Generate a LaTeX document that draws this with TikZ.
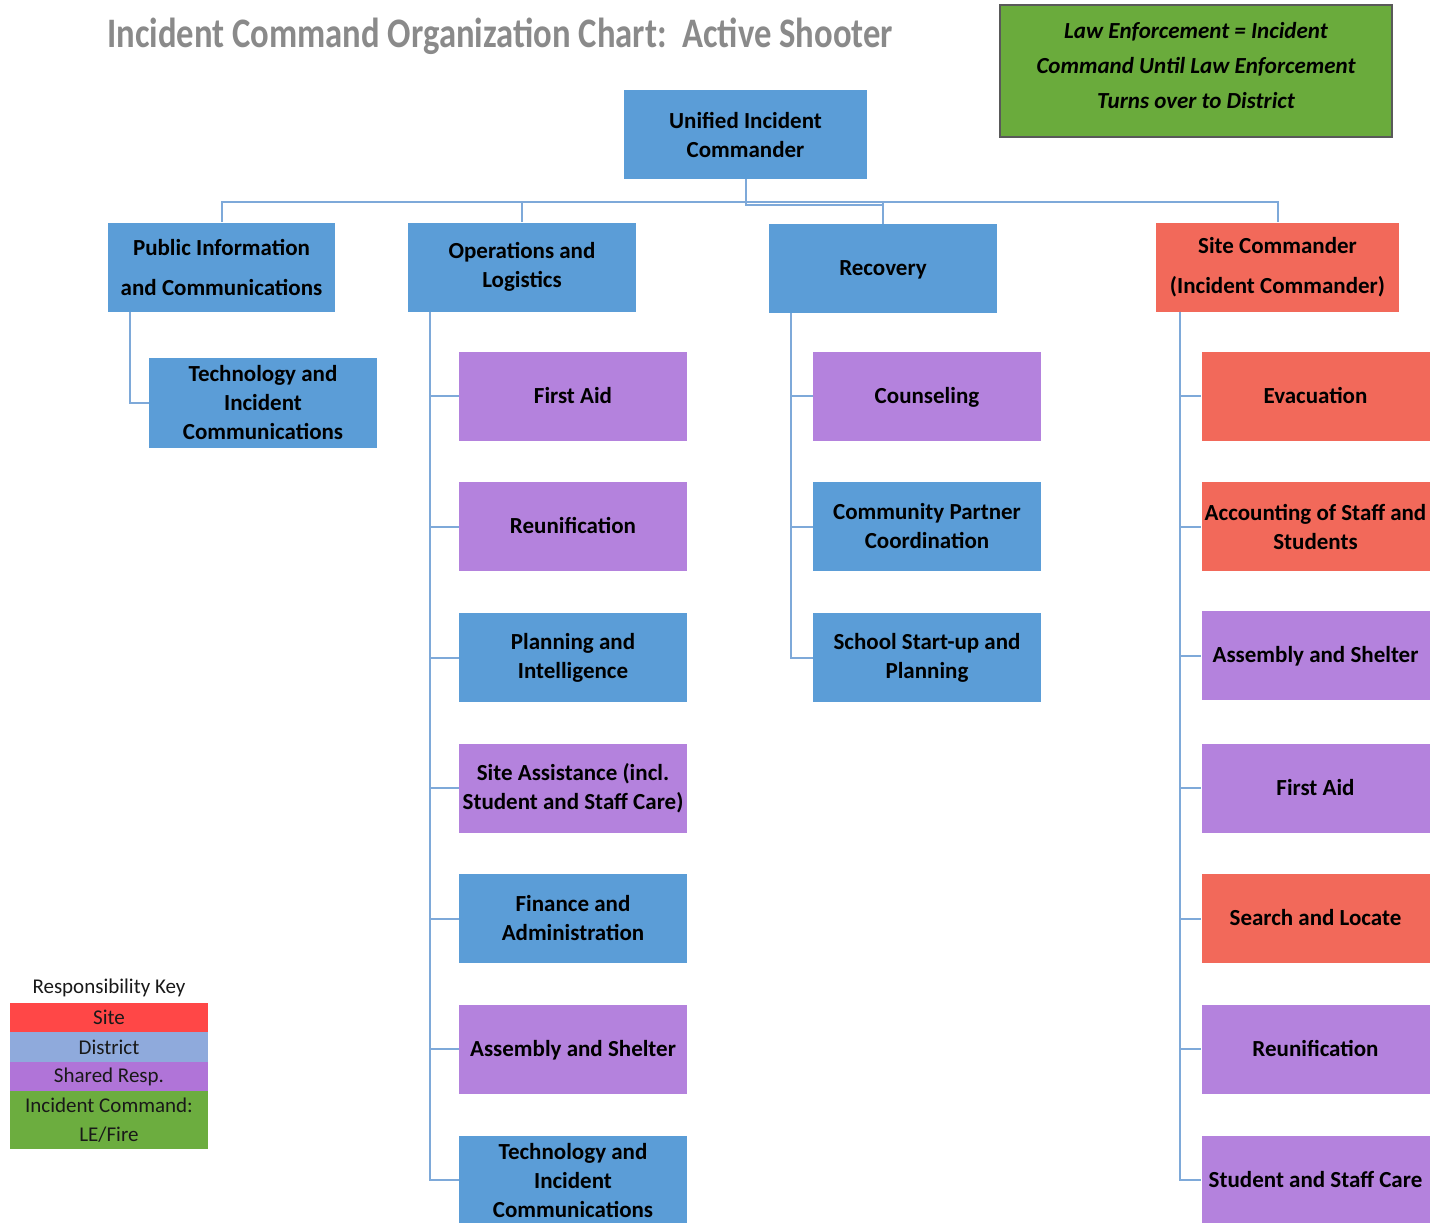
\documentclass[tikz,border=0pt]{standalone}
\usepackage{fontspec}
\setmainfont{Carlito}
\definecolor{bbox}{HTML}{5B9DD7}
\definecolor{pbox}{HTML}{B482DD}
\definecolor{rbox}{HTML}{F2695A}
\definecolor{gbox}{HTML}{6AAB3C}
\definecolor{conncol}{HTML}{7EA9D9}
\definecolor{keyred}{HTML}{FF4747}
\definecolor{keyblue}{HTML}{8FAADC}
\definecolor{keypurple}{HTML}{B074D8}
\definecolor{keygreen}{HTML}{6CAD3F}
\definecolor{titlegray}{HTML}{8A8A8A}
\begin{document}
\begin{tikzpicture}[x=0.5pt,y=-0.5pt,
  orgbox/.style={rectangle, minimum width=114pt, minimum height=44.5pt, inner sep=1pt,
    align=center, font=\bfseries\fontsize{11.5}{14.5}\selectfont, text=black},
  oneline/.style={text height=8pt, text depth=0.6pt},
  bluebox/.style={orgbox, fill=bbox},
  purplebox/.style={orgbox, fill=pbox},
  redbox/.style={orgbox, fill=rbox},
  conn/.style={draw=conncol, line width=1pt},
  keybar/.style={rectangle, minimum width=99pt, inner sep=0pt, align=center,
    font=\fontsize{10.5}{14.5}\selectfont, text=black!90}]
\useasboundingbox (0,0) rectangle (1431,1222);
\clip (0,0) rectangle (1431,1222);
% title
\node[text=titlegray, font=\bfseries\fontsize{21}{24}\selectfont, anchor=west, inner sep=0pt] (title) at (107,36)
  {\scalebox{0.825}[1]{Incident Command Organization Chart:\ \ Active Shooter}};
% green note
\node[rectangle, fill=gbox, draw=black!65, line width=0.6pt, minimum width=196pt, minimum height=66pt] (note) at (1196,71) {};
\node[align=center, font=\bfseries\itshape\fontsize{11.5}{17.5}\selectfont, inner sep=0pt] (notetext) at (1196,66)
  {Law Enforcement = Incident\\Command Until Law Enforcement\\Turns over to District};
% top
\node[bluebox, minimum width=121.5pt] (uic) at (745.5,134.5) {Unified Incident\\Commander};
\node[bluebox, minimum width=113.5pt, font=\bfseries\fontsize{11.5}{20}\selectfont] (pic) at (221.5,267) {Public Information\\and Communications};
\node[bluebox] (ops) at (522,267) {Operations and\\Logistics};
\node[bluebox, oneline] (rec) at (883,268.5) {Recovery};
\node[redbox, minimum width=121.5pt, font=\bfseries\fontsize{11.5}{20}\selectfont] (sc) at (1277.5,267) {Site Commander\\(Incident Commander)};
\coordinate (bus) at (0,202);
\coordinate (bustwo) at (0,205);
\draw[conn] (pic.north) -- (pic.north |- bus) -- (sc.north |- bus) -- (sc.north);
\draw[conn] (ops.north) -- (ops.north |- bus);
\draw[conn] (rec.north) -- (rec.north |- bus);
\draw[conn] (uic.south) -- (uic.south |- bustwo) -- (rec.north |- bustwo);
% PIC child
\node[bluebox, minimum height=45pt] (pt) at (263,403) {Technology and\\Incident\\Communications};
\draw[conn] ([xshift=11pt]pic.south west) |- (pt.west);
% Ops children
\node[purplebox, oneline] (o1) at (573,396) {First Aid};
\node[purplebox, oneline] (o2) at (573,526.5) {Reunification};
\node[bluebox] (o3) at (573,657.5) {Planning and\\Intelligence};
\node[purplebox] (o4) at (573,788) {Site Assistance (incl.\\Student and Staff Care)};
\node[bluebox] (o5) at (573,918.5) {Finance and\\Administration};
\node[purplebox, oneline] (o6) at (573,1049) {Assembly and Shelter};
\node[bluebox] (o7) at (573,1180) {Technology and\\Incident\\Communications};
\foreach \c in {o1,o2,o3,o4,o5,o6,o7} \draw[conn] ([xshift=11pt]ops.south west) |- (\c.west);
% Recovery children
\node[purplebox, oneline] (r1) at (927,396) {Counseling};
\node[bluebox] (r2) at (927,526.5) {Community Partner\\Coordination};
\node[bluebox] (r3) at (927,657.5) {School Start-up and\\Planning};
\foreach \c in {r1,r2,r3} \draw[conn] ([xshift=11pt]rec.south west) |- (\c.west);
% Site commander children
\node[redbox, oneline] (s1) at (1315.5,396) {Evacuation};
\node[redbox] (s2) at (1315.5,526.5) {Accounting of Staff and\\Students};
\node[purplebox, oneline] (s3) at (1315.5,655.5) {Assembly and Shelter};
\node[purplebox, oneline] (s4) at (1315.5,788) {First Aid};
\node[redbox, oneline] (s5) at (1315.5,918.5) {Search and Locate};
\node[purplebox, oneline] (s6) at (1315.5,1049) {Reunification};
\node[purplebox, oneline] (s7) at (1315.5,1180) {Student and Staff Care};
\foreach \c in {s1,s2,s3,s4,s5,s6,s7} \draw[conn] ([xshift=12pt]sc.south west) |- (\c.west);
% legend
\node[font=\fontsize{10.5}{12}\selectfont, text=black!90, inner sep=0pt] (keytitle) at (109,988) {Responsibility Key};
\node[keybar, fill=keyred, minimum height=14.5pt] (k1) at (109,1017.5) {Site};
\node[keybar, fill=keyblue, minimum height=15pt] (k2) at (109,1047) {District};
\node[keybar, fill=keypurple, minimum height=14.5pt] (k3) at (109,1076.5) {Shared Resp.};
\node[keybar, fill=keygreen, minimum height=29pt] (k4) at (109,1120) {Incident Command:\\LE/Fire};
\end{tikzpicture}
\end{document}
